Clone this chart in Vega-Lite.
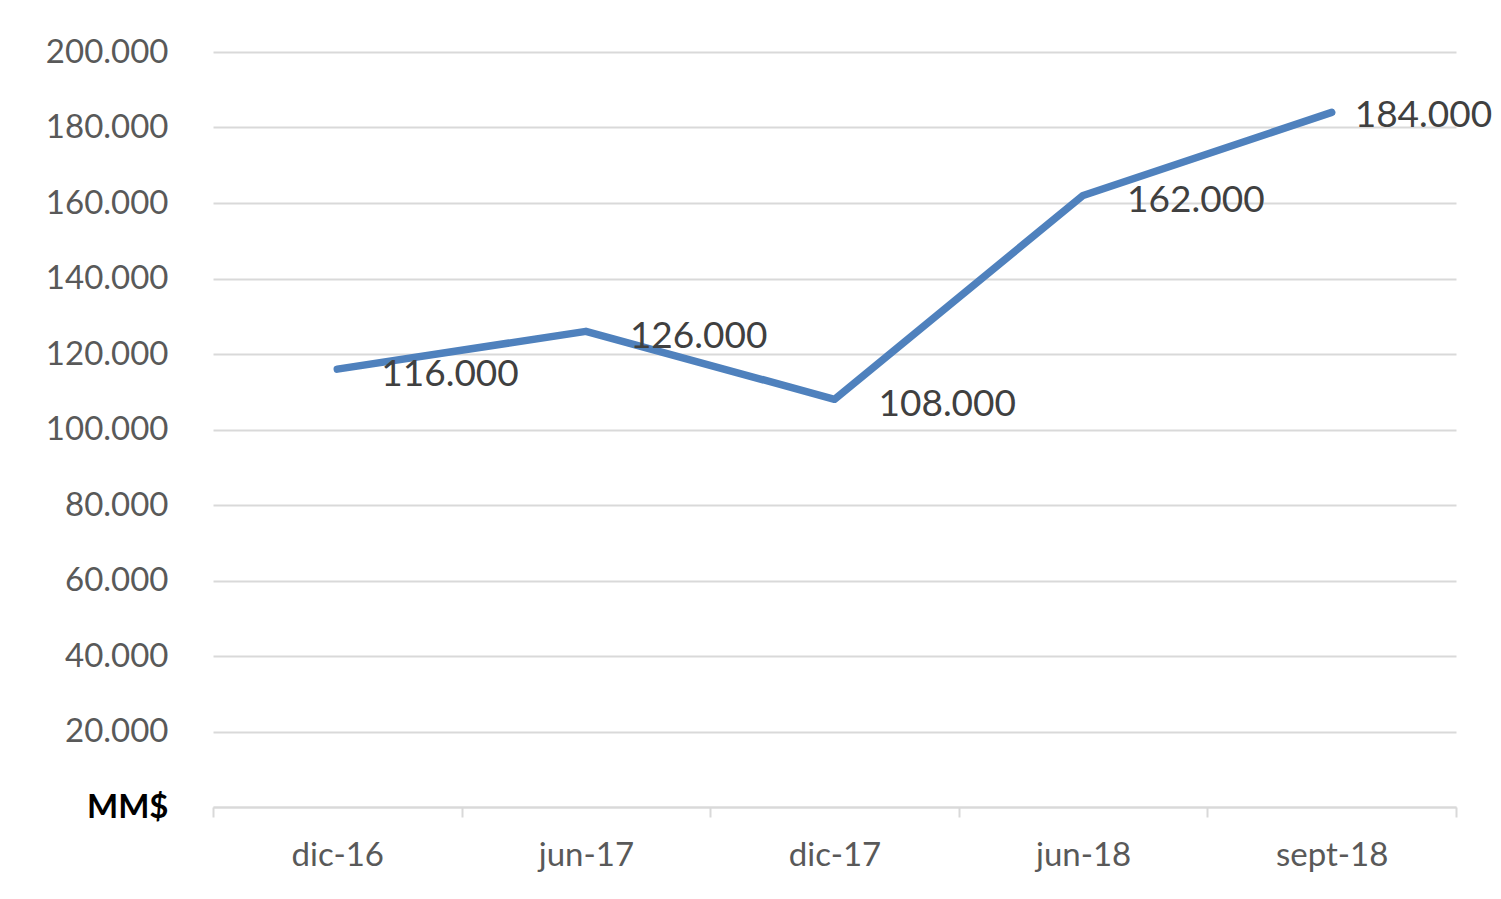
{
  "$schema": "https://vega.github.io/schema/vega-lite/v6.json",
  "width": 1243,
  "height": 755,
  "autosize": {"type": "none"},
  "padding": {"left": 213, "top": 52, "right": 45, "bottom": 92},
  "background": "white",
  "config": {
    "view": {"stroke": null},
    "font": "Lato"
  },
  "data": {
    "values": [
      {"mes": "dic-16", "valor": 116000, "etiqueta": "116.000"},
      {"mes": "jun-17", "valor": 126000, "etiqueta": "126.000"},
      {"mes": "dic-17", "valor": 108000, "etiqueta": "108.000"},
      {"mes": "jun-18", "valor": 162000, "etiqueta": "162.000"},
      {"mes": "sept-18", "valor": 184000, "etiqueta": "184.000"}
    ]
  },
  "encoding": {
    "x": {
      "field": "mes",
      "type": "nominal",
      "sort": null,
      "scale": {"paddingInner": 0, "paddingOuter": 0},
      "axis": {
        "title": null,
        "labelAngle": 0,
        "labelFont": "Lato",
        "labelFontSize": 33,
        "labelColor": "#595959",
        "labelPadding": 22,
        "domainColor": "#d9d9d9",
        "domainWidth": 2,
        "tickColor": "#d9d9d9",
        "tickWidth": 2,
        "tickSize": 10,
        "tickBand": "extent",
        "grid": false
      }
    },
    "y": {
      "field": "valor",
      "type": "quantitative",
      "scale": {"domain": [0, 200000], "nice": false},
      "axis": {
        "title": null,
        "values": [0, 20000, 40000, 60000, 80000, 100000, 120000, 140000, 160000, 180000, 200000],
        "labelExpr": "datum.value == 0 ? 'MM$' : replace(format(datum.value, ','), ',', '.')",
        "labelFont": "Lato",
        "labelFontSize": 33,
        "labelColor": {"condition": {"test": "datum.value == 0", "value": "#000000"}, "value": "#595959"},
        "labelFontWeight": {"condition": {"test": "datum.value == 0", "value": "bold"}, "value": "normal"},
        "labelPadding": 45,
        "ticks": false,
        "domain": false,
        "grid": true,
        "gridColor": "#d9d9d9",
        "gridWidth": 2
      }
    }
  },
  "layer": [
    {
      "mark": {"type": "line", "color": "#4f81bd", "strokeWidth": 7.5, "strokeCap": "round", "strokeJoin": "round"}
    },
    {
      "transform": [{"filter": "datum.mes != 'sept-18'"}],
      "mark": {"type": "text", "align": "left", "baseline": "middle", "dx": 44, "dy": 6, "font": "Lato", "fontSize": 37, "color": "#404040"},
      "encoding": {"text": {"field": "etiqueta"}}
    },
    {
      "transform": [{"filter": "datum.mes == 'sept-18'"}],
      "mark": {"type": "text", "align": "left", "baseline": "middle", "dx": 23, "dy": 4, "font": "Lato", "fontSize": 37, "color": "#404040"},
      "encoding": {"text": {"field": "etiqueta"}}
    }
  ]
}
